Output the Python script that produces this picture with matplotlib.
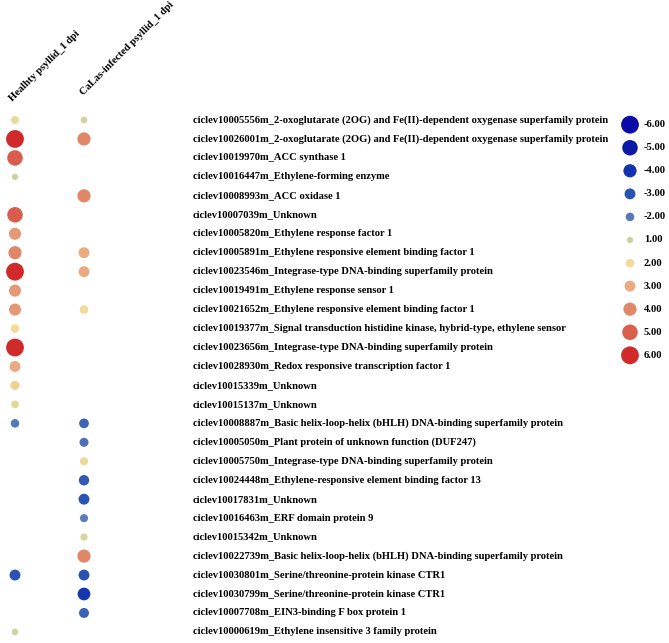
import matplotlib
matplotlib.use("Agg")
import matplotlib.pyplot as plt
import numpy as np
from matplotlib.colors import LinearSegmentedColormap

plt.rcParams['font.family'] = ['Liberation Serif', 'DejaVu Serif']
plt.rcParams['font.weight'] = 'bold'

samples = ['Healhty psyllid_1 dpi', 'CaLas-infected psyllid_1 dpi']

genes = [
    'ciclev10005556m_2-oxoglutarate (2OG) and Fe(II)-dependent oxygenase superfamily protein',
    'ciclev10026001m_2-oxoglutarate (2OG) and Fe(II)-dependent oxygenase superfamily protein',
    'ciclev10019970m_ACC synthase 1',
    'ciclev10016447m_Ethylene-forming enzyme',
    'ciclev10008993m_ACC oxidase 1',
    'ciclev10007039m_Unknown',
    'ciclev10005820m_Ethylene response factor 1',
    'ciclev10005891m_Ethylene responsive element binding factor 1',
    'ciclev10023546m_Integrase-type DNA-binding superfamily protein',
    'ciclev10019491m_Ethylene response sensor 1',
    'ciclev10021652m_Ethylene responsive element binding factor 1',
    'ciclev10019377m_Signal transduction histidine kinase, hybrid-type, ethylene sensor',
    'ciclev10023656m_Integrase-type DNA-binding superfamily protein',
    'ciclev10028930m_Redox responsive transcription factor 1',
    'ciclev10015339m_Unknown',
    'ciclev10015137m_Unknown',
    'ciclev10008887m_Basic helix-loop-helix (bHLH) DNA-binding superfamily protein',
    'ciclev10005050m_Plant protein of unknown function (DUF247)',
    'ciclev10005750m_Integrase-type DNA-binding superfamily protein',
    'ciclev10024448m_Ethylene-responsive element binding factor 13',
    'ciclev10017831m_Unknown',
    'ciclev10016463m_ERF domain protein 9',
    'ciclev10015342m_Unknown',
    'ciclev10022739m_Basic helix-loop-helix (bHLH) DNA-binding superfamily protein',
    'ciclev10030801m_Serine/threonine-protein kinase CTR1',
    'ciclev10030799m_Serine/threonine-protein kinase CTR1',
    'ciclev10007708m_EIN3-binding F box protein 1',
    'ciclev10000619m_Ethylene insensitive 3 family protein',
]

# log2 fold change per gene (nan = not significant / no dot)
nan = np.nan
healthy = [1.8, 6.0, 5.0, 1.0, nan, 5.0, 3.5, 4.0, 6.0, 3.5, 3.5, 2.0, 6.0, 3.0,
           2.2, 1.6, -2.0, nan, nan, nan, nan, nan, nan, nan, -3.0, nan, nan, 1.1]
infected = [1.2, 4.0, nan, nan, 4.0, nan, nan, 3.0, 3.0, nan, 2.0, nan, nan, nan,
            nan, nan, -2.5, -2.2, 1.8, -2.8, -3.0, -1.8, 1.4, 4.0, -3.0, -3.8, -2.6, nan]

legend_values = [-6, -5, -4, -3, -2, 1, 2, 3, 4, 5, 6]
legend_colors = ['#0a0aa6', '#0c1aa8', '#1232ae', '#2a52b2', '#5478ba', '#c9d2a2',
                 '#f0dc98', '#e9ab80', '#e08868', '#d95e4c', '#d02a2a']

cmap = LinearSegmentedColormap.from_list(
    'fc', [((v + 6) / 12, c) for v, c in zip(legend_values, legend_colors)])


def dot_size(v):
    d_px = 4 + 2.3 * np.abs(v)
    return (d_px * 0.72) ** 2


def dot_color(v):
    return cmap((np.asarray(v) + 6) / 12)


W, H = 669, 643
fig = plt.figure(figsize=(W / 100, H / 100), dpi=100)

# main axes over the whole figure; 1 x-unit = column spacing, 1 y-unit = row spacing
col_px, row_px = 69.0, 18.96
x0_px, y0_px = 15.0, 120.0
ax = fig.add_axes([0, 0, 1, 1])
ax.set_xlim(-x0_px / col_px, (W - x0_px) / col_px)
ax.set_ylim((H - y0_px) / row_px, -y0_px / row_px)
ax.axis('off')

rows = np.arange(len(genes))
for j, vals in enumerate([healthy, infected]):
    vals = np.array(vals, dtype=float)
    ok = ~np.isnan(vals)
    ax.scatter(np.full(ok.sum(), j), rows[ok], s=dot_size(vals[ok]),
               c=dot_color(vals[ok]), linewidths=0, zorder=3)

label_x = (193 - x0_px) / col_px
for r, g in zip(rows, genes):
    ax.text(label_x, r, g, fontsize=7.6, fontweight='bold', ha='left', va='center')

header_pos = [(-0.02, -0.9), (1.02, -1.2)]
for (hx, hy), s in zip(header_pos, samples):
    ax.text(hx, hy, s, fontsize=7.6, fontweight='bold',
            rotation=45, rotation_mode='anchor', ha='left', va='bottom')

# size/colour legend
lax = fig.add_axes([600 / W, 1 - 368 / H, 69 / W, 256 / H])
lax.set_xlim(0, 1)
lax.set_ylim(len(legend_values) - 0.45, -0.55)
lax.axis('off')
lrows = np.arange(len(legend_values))
lv = np.array(legend_values, dtype=float)
lax.scatter(np.full(len(lv), 30 / 69), lrows, s=dot_size(lv), c=legend_colors,
            linewidths=0)
for r, v in zip(lrows, legend_values):
    lax.text(44 / 69, r, '%.2f' % v, fontsize=7.6, fontweight='bold',
             ha='left', va='center')

fig.savefig('out.png', dpi=100)
